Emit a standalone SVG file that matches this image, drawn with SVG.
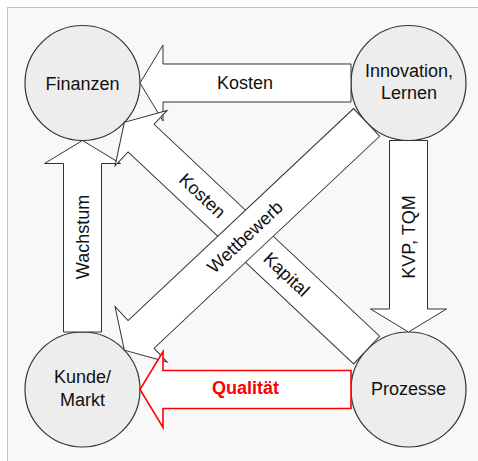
<svg xmlns="http://www.w3.org/2000/svg" width="478" height="461" viewBox="0 0 478 461">
<style>
.node{fill:#ededed;stroke:#333;stroke-width:1.2}
.arr{fill:#fff;stroke:#333;stroke-width:1}
.red{fill:#fff;stroke:#f00;stroke-width:1.6}
text{font-family:"Liberation Sans",Arial,sans-serif;font-size:18px;fill:#111;text-anchor:middle}
.lbl{fill:#111}
.q{fill:#f00;font-weight:bold}
</style>
<defs>
<polygon id="a211" points="0,-19 188,-19 188,-38 211,0 188,38 188,19 0,19"/>
<polygon id="a191" points="0,-19 168.5,-19 168.5,-38 191.5,0 168.5,38 168.5,19 0,19"/>
<polygon id="a332" points="0,-19 309.5,-19 309.5,-38 332.5,0 309.5,38 309.5,19 0,19"/>
</defs>
<rect x="0" y="0" width="478" height="461" fill="#fff"/>
<rect x="7.5" y="7.5" width="480" height="470" fill="#f8f8f8" stroke="#c4c4c4" stroke-width="1"/>
<g id="finanzen"><circle class="node" cx="82.5" cy="83" r="57.5"/><text x="82.5" y="90">Finanzen</text></g>
<g id="innovation"><circle class="node" cx="408.5" cy="83" r="57.5"/><text x="409" y="77.3">Innovation,</text><text x="409" y="99.3">Lernen</text></g>
<g id="kunde"><circle class="node" cx="82.5" cy="389.5" r="57.5"/><text x="82.5" y="383.3">Kunde/</text><text x="82.5" y="405.7">Markt</text></g>
<g id="prozesse"><circle class="node" cx="408.5" cy="389.5" r="57.5"/><text x="408.5" y="395">Prozesse</text></g>
<g id="connectors">
<g id="wachstum"><use href="#a191" class="arr" transform="translate(82.5,332) rotate(-90)"/><text transform="translate(82.5,237) rotate(-90)" dy="0.35em">Wachstum</text></g>
<g id="kosten-top"><use href="#a211" class="arr" transform="translate(351,83) rotate(180)"/><text x="245" y="83" dy="0.35em">Kosten</text></g>
<g id="kvp"><use href="#a191" class="arr" transform="translate(408.5,140.5) rotate(90)"/><text transform="translate(408.5,237) rotate(-90)" dy="0.35em">KVP, TQM</text></g>
<g id="kosten-diag"><use href="#a332" class="arr" transform="translate(366.6,350.1) rotate(-136.77)"/><text transform="translate(202.5,195.5) rotate(43.23)" dy="0.35em">Kosten</text><text transform="translate(286.7,274.2) rotate(43.23)" dy="0.35em">Kapital</text></g>
<g id="wettbewerb"><use href="#a332" class="arr" transform="translate(366.6,122.4) rotate(136.77)"/><text transform="translate(244.9,236.8) rotate(-43.23)" dy="0.35em">Wettbewerb</text></g>
<g id="qualitaet"><use href="#a211" class="red" transform="translate(351,389.5) rotate(180)"/><text class="q" x="245.5" y="394.3">Qualität</text></g>
</g>
</svg>
